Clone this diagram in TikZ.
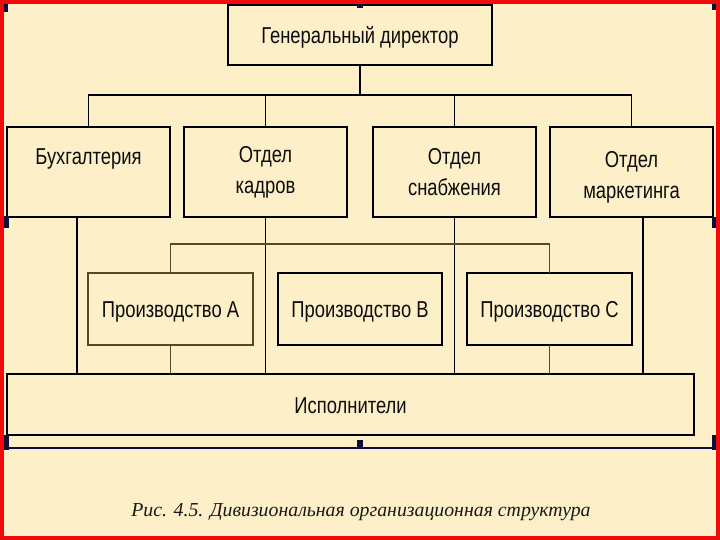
\documentclass[tikz,border=0pt]{standalone}
\usepackage{fontspec}
\setmainfont{Liberation Serif}
\newfontfamily\boxfont[FakeStretch=0.8]{Liberation Sans}
\definecolor{bg}{RGB}{253,240,200}
\definecolor{frame}{RGB}{240,10,10}
\definecolor{handle}{RGB}{15,15,60}
\definecolor{brownline}{RGB}{90,72,30}
\begin{document}
\begin{tikzpicture}[x=1pt,y=-1pt,
  box/.style={draw=black, line width=1.8pt, fill=bg, inner sep=0pt, outer sep=0pt,
    align=center, font=\boxfont\fontsize{23}{31}\selectfont, text=black!95},
  onebox/.style={box, text height=17pt, text depth=0pt},
  conn/.style={draw=black, line width=1.3pt},
  pconn/.style={draw=brownline, line width=1.2pt},
  hnd/.style={fill=handle, draw=none}]
\useasboundingbox (0,0) rectangle (720,540);
\fill[bg] (0,0) rectangle (720,540);
% boxes
\node[onebox, minimum width=264pt, minimum height=60pt] (gd) at (360,35) {Генеральный директор};
\node[box, minimum width=163pt, minimum height=90pt] (bux) at (88.5,172) {Бухгалтерия\\\mbox{}};
\node[box, minimum width=163pt, minimum height=90pt] (kadr) at (265.5,172) {Отдел\\кадров};
\node[box, minimum width=163pt, minimum height=90pt] (snab) at (454.5,172) {Отдел\\снабжения};
\node[box, minimum width=163pt, minimum height=90pt] (mark) at (631.5,172) {};
\node[font=\boxfont\fontsize{23}{31}\selectfont, text=black!95, align=center] (markt) at (631.5,177) {Отдел\\маркетинга};
\node[onebox, draw=brownline, minimum width=165pt, minimum height=72pt] (pa) at (170.5,309) {Производство А};
\node[onebox, minimum width=164pt, minimum height=72pt] (pb) at (360,309) {Производство В};
\node[onebox, minimum width=165pt, minimum height=72pt] (pc) at (549.5,309) {Производство С};
\node[onebox, minimum width=687pt, minimum height=61pt] (isp) at (350.5,404.5) {Исполнители};
% connectors top level
\coordinate (bus) at (360,95);
\draw[conn] (gd.south) -- (bus);
\draw[conn] (bux.north) |- (bus) -| (mark.north);
\draw[conn] (kadr.north) -- (kadr.north |- bus);
\draw[conn] (snab.north) -- (snab.north |- bus);
% drops to executors
\coordinate (dropb) at (77,0);
\coordinate (dropm) at (643,0);
\draw[conn] (dropb |- bux.south) -- (dropb |- isp.north);
\draw[conn] (kadr.south) -- (kadr.south |- isp.north);
\draw[conn] (snab.south) -- (snab.south |- isp.north);
\draw[conn] (dropm |- mark.south) -- (dropm |- isp.north);
% production bus
\coordinate (pbus) at (360,244);
\draw[pconn] (pa.north) |- (pbus) -| (pc.north);
\draw[pconn, line width=0.9pt] (pa.south) -- (pa.south |- isp.north);
\draw[pconn, line width=0.9pt] (pc.south) -- (pc.south |- isp.north);
% caption
\node[font=\fontsize{19.8}{22}\selectfont\itshape, text=black!90] (cap) at (361,512) {Рис. 4.5. Дивизиональная организационная структура};
% selection frame and handles
\draw[handle, line width=1.5pt] (8,448) -- (712,448);
\fill[hnd] (2,3) rectangle (8,12);
\fill[hnd] (357,3) rectangle (363,8);
\fill[hnd] (712,3) rectangle (718,10);
\fill[hnd] (2,216) rectangle (9,228);
\fill[hnd] (712,217) rectangle (718,228);
\fill[hnd] (2,435) rectangle (9,450);
\fill[hnd] (357,440) rectangle (363,449);
\fill[hnd] (712,435) rectangle (718,450);
% red frame
\draw[frame, line width=4pt] (2,2) rectangle (718,538);
\end{tikzpicture}
\end{document}
